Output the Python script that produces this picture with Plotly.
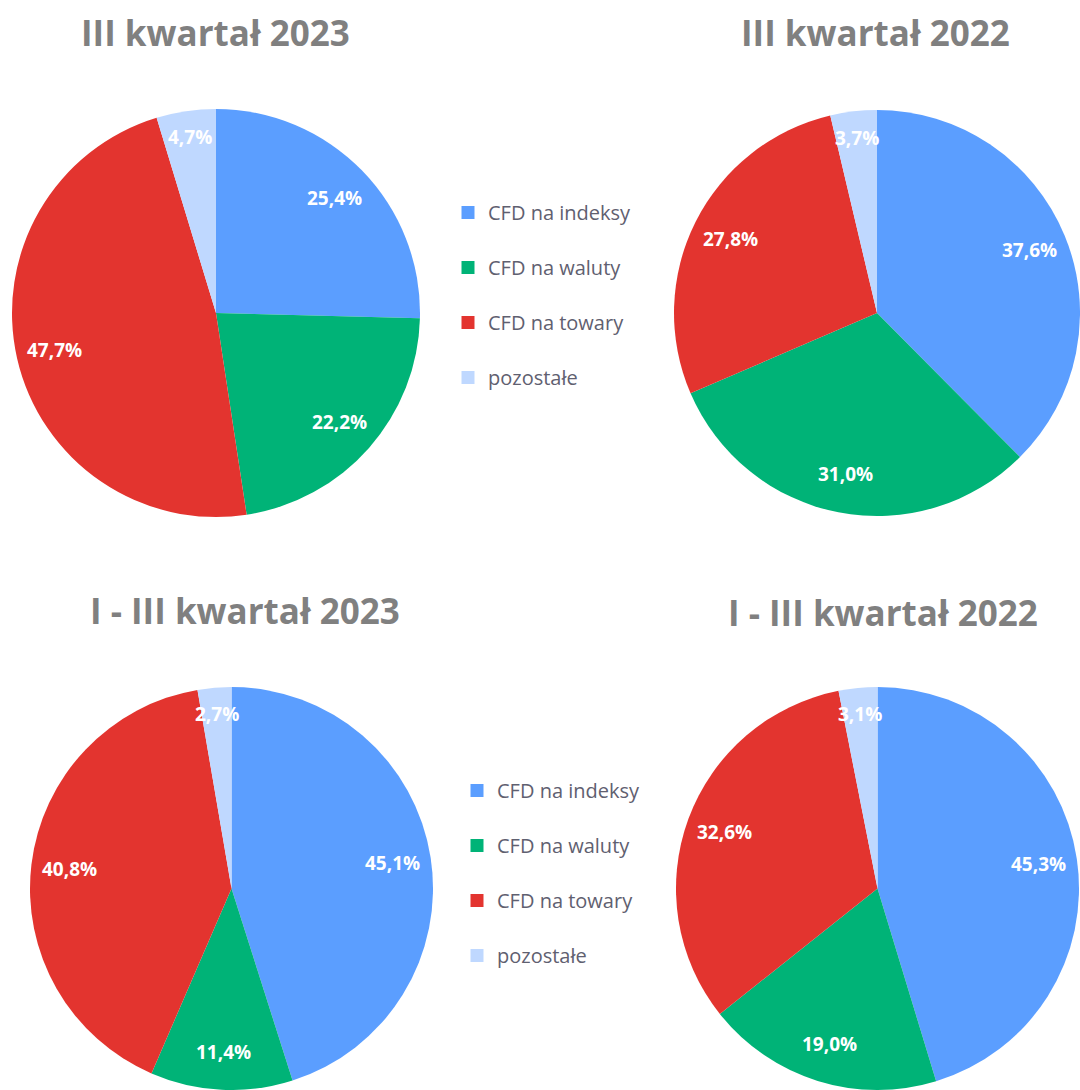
import math
import plotly.graph_objects as go

W, H = 1080, 1090

categories = ["CFD na indeksy", "CFD na waluty", "CFD na towary", "pozostałe"]
colors = ["#5B9EFF", "#00B377", "#E3342F", "#BFD8FF"]

titles = ["III kwartał 2023", "III kwartał 2022", "I - III kwartał 2023", "I - III kwartał 2022"]
q3_2023 = [25.4, 22.2, 47.7, 4.7]
q3_2022 = [37.6, 31.0, 27.8, 3.7]
q1_3_2023 = [45.1, 11.4, 40.8, 2.7]
q1_3_2022 = [45.3, 19.0, 32.6, 3.1]
series = [q3_2023, q3_2022, q1_3_2023, q1_3_2022]

# pie geometry in pixels: (left, right, top, bottom)
boxes = [(12, 420, 109, 517), (674, 1080, 109, 517), (30, 433, 687, 1090), (675, 1080, 687, 1090)]
title_pos = [(215, 32), (875, 33), (245, 610), (883, 612)]

fig = go.Figure()
annotations = []

def fmt(v):
    return f"{v:.1f}".replace(".", ",") + "%"

for i, (vals, box) in enumerate(zip(series, boxes)):
    l, r, t, b = box
    fig.add_trace(go.Pie(
        labels=categories, values=vals, sort=False, direction="clockwise", rotation=0,
        marker=dict(colors=colors, line=dict(width=0)),
        textinfo="none", hoverinfo="label+percent", showlegend=False,
        domain=dict(x=[l / W, r / W], y=[1 - b / H, 1 - t / H]),
    ))
    cx, cy = (l + r) / 2, (t + b) / 2
    rad = min(r - l, b - t) / 2
    total = sum(vals)
    cum = 0.0
    for v in vals:
        mid = (cum + v / 2) / total * 2 * math.pi
        cum += v
        frac = 0.87 if v / total < 0.06 else 0.81
        px = cx + frac * rad * math.sin(mid)
        py = cy - frac * rad * math.cos(mid)
        annotations.append(dict(
            x=px / W, y=1 - py / H, xref="paper", yref="paper", showarrow=False,
            text=f"<b>{fmt(v)}</b>", font=dict(family="Open Sans", size=19, color="white"),
            xanchor="center", yanchor="middle",
        ))

for (tx, ty), title in zip(title_pos, titles):
    annotations.append(dict(
        x=tx / W, y=1 - ty / H, xref="paper", yref="paper", showarrow=False,
        text=f"<b>{title}</b>", font=dict(family="Open Sans", size=35, color="#808080"),
        xanchor="center", yanchor="middle",
    ))

# legend entries (dummy traces so that the items can be spaced)
for lg in ["legend", "legend2"]:
    for cat, col in zip(categories, colors):
        fig.add_trace(go.Scatter(
            x=[None], y=[None], mode="markers", name=cat,
            marker=dict(symbol="square", size=13, color=col),
            legend=lg, legendgroup=lg + cat, showlegend=True, hoverinfo="skip",
        ))

legend_common = dict(
    font=dict(family="Open Sans", size=20, color="#5F6070"),
    bgcolor="rgba(0,0,0,0)", borderwidth=0, traceorder="grouped",
    tracegroupgap=26, itemwidth=30, xanchor="left", yanchor="top",
)

fig.update_layout(
    width=W, height=H, margin=dict(l=0, r=0, t=0, b=0),
    paper_bgcolor="white", plot_bgcolor="white",
    template="none",
    annotations=annotations,
    legend=dict(x=448 / W, y=1 - 193 / H, **legend_common),
    legend2=dict(x=457 / W, y=1 - 771 / H, **legend_common),
    xaxis=dict(visible=False, domain=[0.49, 0.5]),
    yaxis=dict(visible=False, domain=[0.49, 0.5]),
)

fig.write_html(
    "out.html",
    config={"displayModeBar": False},
    post_script="document.body.style.margin='0';document.body.style.overflow='hidden';",
)
